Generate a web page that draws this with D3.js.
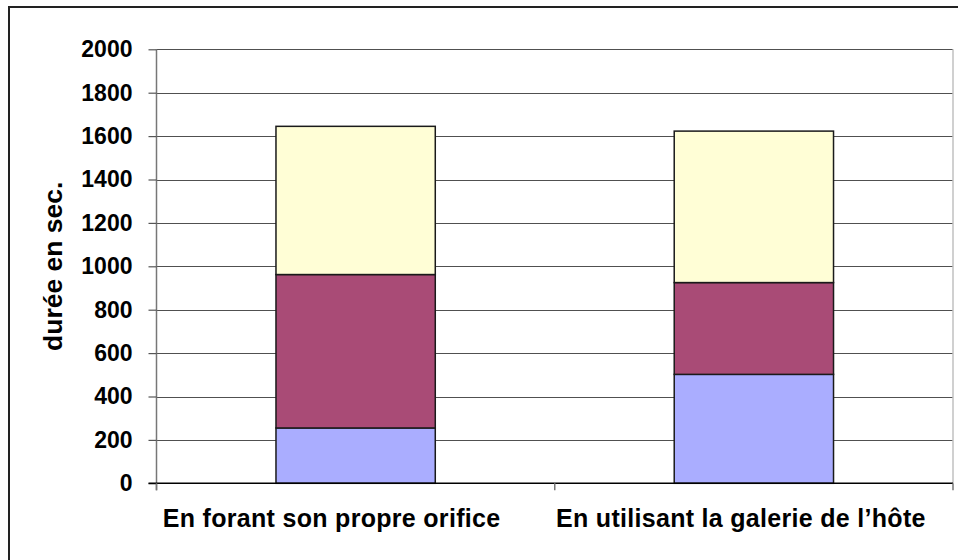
<!DOCTYPE html>
<html>
<head>
<meta charset="utf-8">
<script src="https://cdn.jsdelivr.net/npm/d3@7"></script>
<style>
  html, body { margin: 0; padding: 0; background: #fff; }
  svg { display: block; font-family: "Liberation Sans", Arial, sans-serif; }
</style>
</head>
<body>
<svg id="chart" width="958" height="560"></svg>
<script>
// Categories and stacked segment values (seconds)
const categories = ["En forant son propre orifice", "En utilisant la galerie de l\u2019hôte"];
const phase1 = [255, 502];
const phase2 = [707, 423];
const phase3 = [683, 698];
const yTicks = [0, 200, 400, 600, 800, 1000, 1200, 1400, 1600, 1800, 2000];
const yTitle = "durée en sec.";
const seriesColors = ["#aaadff", "#a94b76", "#fffed6"];
// Horizontal nudge of each category label relative to its band centre
const labelShift = [-24, -13];

const svg = d3.select("#chart");
const W = 958, H = 560;
const plot = { left: 156.5, right: 953, top: 49.3, bottom: 483.3 };

// Outer chart frame (runs past the right and bottom edges)
svg.append("rect")
  .attr("x", 9).attr("y", 7)
  .attr("width", W + 20).attr("height", H + 20)
  .attr("fill", "#fff").attr("stroke", "#222").attr("stroke-width", 2);

const x = d3.scaleBand().domain(categories).range([plot.left, plot.right]).paddingInner(0.6).paddingOuter(0.3);
const y = d3.scaleLinear().domain([0, 2000]).range([plot.bottom, plot.top]);

// Horizontal gridlines
svg.append("g").selectAll("line").data(yTicks.filter(t => t > 0)).join("line")
  .attr("x1", plot.left).attr("x2", plot.right)
  .attr("y1", d => Math.round(y(d)) + 0.5).attr("y2", d => Math.round(y(d)) + 0.5)
  .attr("stroke", "#505050").attr("stroke-width", 1.2);

// Right edge of the plot area
svg.append("line")
  .attr("x1", plot.right).attr("x2", plot.right)
  .attr("y1", plot.top).attr("y2", plot.bottom)
  .attr("stroke", "#c0c0c0").attr("stroke-width", 1.5);

// Stacked bars
const rows = categories.map((c, i) => ({ cat: c, p1: phase1[i], p2: phase2[i], p3: phase3[i] }));
const stack = d3.stack().keys(["p1", "p2", "p3"])(rows);
svg.append("g").selectAll("g").data(stack).join("g")
  .attr("fill", (d, i) => seriesColors[i])
  .selectAll("rect").data(d => d).join("rect")
  .attr("x", d => x(d.data.cat))
  .attr("width", x.bandwidth())
  .attr("y", d => y(d[1]))
  .attr("height", d => y(d[0]) - y(d[1]))
  .attr("stroke", "#1a1a1a").attr("stroke-width", 1.5);

// Y axis
const yAxis = d3.axisLeft(y).tickValues(yTicks).tickSize(8).tickPadding(16).tickFormat(d3.format("d"));
const gy = svg.append("g").attr("transform", `translate(${plot.left},0)`).call(yAxis);
gy.select(".domain").attr("stroke", "#777").attr("stroke-width", 1.5)
  .attr("d", `M0,${plot.top}V${plot.bottom + 7}`);
gy.selectAll(".tick line").attr("stroke", "#555").attr("stroke-width", 1.2);
gy.selectAll(".tick text")
  .attr("font-size", 23).attr("font-weight", "bold").attr("fill", "#000")
  .attr("font-family", "Liberation Sans, Arial, sans-serif");

// X axis
const xAxis = d3.axisBottom(x).tickSize(0).tickPadding(26);
const gx = svg.append("g").attr("transform", `translate(0,${plot.bottom})`).call(xAxis);
gx.select(".domain").attr("stroke", "#000").attr("stroke-width", 1.5)
  .attr("d", `M${plot.left - 8},0H${plot.right}`);
gx.selectAll(".tick text")
  .attr("font-size", 25).attr("font-weight", "bold").attr("fill", "#000")
  .attr("letter-spacing", 0.3)
  .attr("dx", (d, i) => labelShift[i])
  .attr("font-family", "Liberation Sans, Arial, sans-serif");

// Category separator ticks below the axis
const seps = [plot.left, plot.left + (plot.right - plot.left) / 2, plot.right];
svg.append("g").selectAll("line").data(seps).join("line")
  .attr("x1", d => d).attr("x2", d => d)
  .attr("y1", plot.bottom).attr("y2", plot.bottom + 7)
  .attr("stroke", "#777").attr("stroke-width", 1.5);

// Y axis title
svg.append("text")
  .attr("transform", `translate(61.5,${(plot.top + plot.bottom) / 2}) rotate(-90)`)
  .attr("text-anchor", "middle")
  .attr("font-size", 26.5).attr("font-weight", "bold")
  .text(yTitle);
</script>
</body>
</html>
